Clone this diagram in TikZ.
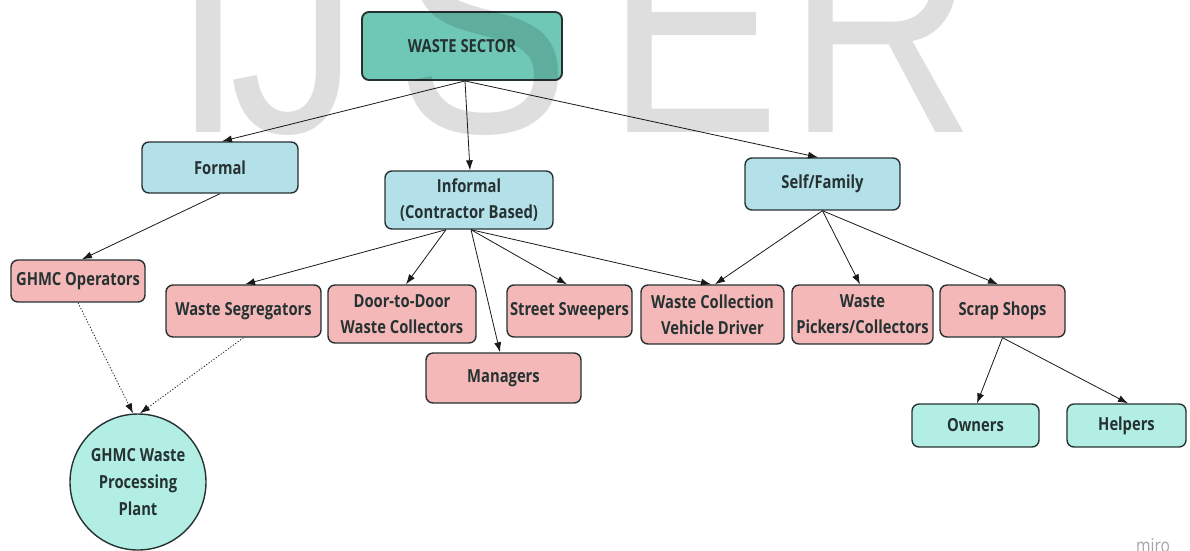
\documentclass[tikz,border=0pt]{standalone}
\usepackage{fontspec}
\usetikzlibrary{arrows.meta}
\newfontfamily\diagfont[FakeStretch=0.82]{Open Sans}
\newfontfamily\wmfont[FakeStretch=0.85]{Liberation Sans}
\definecolor{ink}{RGB}{38,50,50}
\definecolor{rootfill}{RGB}{110,200,181}
\definecolor{bluefill}{RGB}{180,224,233}
\definecolor{pinkfill}{RGB}{244,184,184}
\definecolor{leaffill}{RGB}{178,238,228}
\definecolor{edgecol}{RGB}{25,25,25}
\tikzset{
  box/.style={draw=ink, line width=1.4pt, rounded corners=7pt, align=center,
    font=\diagfont\bfseries\fontsize{18}{26}\selectfont, text=ink, inner sep=0pt},
  rootbox/.style={box, fill=rootfill, line width=1.9pt, font=\diagfont\bfseries\fontsize{18}{24}\selectfont},
  catbox/.style={box, fill=bluefill},
  rolebox/.style={box, fill=pinkfill},
  leafbox/.style={box, fill=leaffill},
  plantnode/.style={circle, draw=ink, line width=1.4pt, fill=leaffill, align=center,
    font=\diagfont\bfseries\fontsize{18}{27}\selectfont, text=ink, inner sep=0pt, minimum size=136pt},
  link/.style={draw=edgecol, line width=0.8pt, -{Latex[length=10pt,width=7pt]}},
  dotlink/.style={link, dash pattern=on 1.2pt off 1.8pt},
  wmletter/.style={anchor=base, inner sep=0pt, text=black, text opacity=0.13,
    font=\wmfont\fontsize{307}{307}\selectfont},
}
\begin{document}
\begin{tikzpicture}[x=1pt,y=-1pt]
\useasboundingbox[fill=white] (0,0) rectangle (1190,550);

% nodes
\node[rootbox, minimum width=200pt, minimum height=68pt] (ws) at (462,46) {WASTE SECTOR};
\node[catbox, minimum width=156pt, minimum height=51pt] (formal) at (220,167.5) {Formal};
\node[catbox, minimum width=168pt, minimum height=58pt] (informal) at (469,200) {Informal\\(Contractor Based)};
\node[catbox, minimum width=155pt, minimum height=52pt] (self) at (822.5,184) {Self/Family};

\node[rolebox, minimum width=134pt, minimum height=42pt] (ghmcop) at (78,281) {GHMC Operators};
\node[rolebox, minimum width=155pt, minimum height=52pt] (seg) at (243.5,311) {Waste Segregators};
\node[rolebox, minimum width=148pt, minimum height=58pt] (d2d) at (402,314) {Door-to-Door\\Waste Collectors};
\node[rolebox, minimum width=155pt, minimum height=50pt] (managers) at (503.5,378) {Managers};
\node[rolebox, minimum width=125pt, minimum height=52pt] (sweep) at (569.5,311) {Street Sweepers};
\node[rolebox, minimum width=143pt, minimum height=59pt] (driver) at (712.5,314.5) {Waste Collection\\Vehicle Driver};
\node[rolebox, minimum width=141pt, minimum height=59pt] (pickers) at (862.5,314.5) {Waste\\Pickers/Collectors};
\node[rolebox, minimum width=125pt, minimum height=52pt] (scrap) at (1002.5,311) {Scrap Shops};

\node[leafbox, minimum width=127pt, minimum height=43pt] (owners) at (975.5,425.5) {Owners};
\node[leafbox, minimum width=119pt, minimum height=43pt] (helpers) at (1126.5,425.5) {Helpers};

\node[plantnode] (plant) at (138,482) {GHMC Waste\\Processing\\Plant};

\node[text=black!35, font=\diagfont\fontsize{19}{19}\selectfont, inner sep=0pt] (miro) at (1153,546) {miro};

% connectors
\draw[link] ([xshift=3pt]ws.south) -- ([xshift=2pt]formal.north);
\draw[link] ([xshift=3pt]ws.south) -- ([xshift=1pt]informal.north);
\draw[link] ([xshift=3pt]ws.south) -- ([xshift=-4.5pt]self.north);

\draw[link] (formal.south) -- ([xshift=4pt]ghmcop.north);

\draw[link] ([xshift=-23pt]informal.south) -- ([xshift=1.5pt]seg.north);
\draw[link] ([xshift=-23pt]informal.south) -- ([xshift=4pt]d2d.north);
\draw[link] ([xshift=2pt]informal.south) -- ([xshift=-3.5pt]managers.north);
\draw[link] ([xshift=2pt]informal.south) -- ([xshift=-2.5pt]sweep.north);
\draw[link] ([xshift=2pt]informal.south) -- ([xshift=-1.5pt]driver.north);

\draw[link] (self.south) -- ([xshift=2.5pt]driver.north);
\draw[link] (self.south) -- ([xshift=-2.5pt]pickers.north);
\draw[link] (self.south) -- ([xshift=-4.5pt]scrap.north);

\draw[link] (scrap.south) -- ([xshift=1.5pt]owners.north);
\draw[link] (scrap.south) -- ([xshift=1.5pt]helpers.north);

\draw[dotlink] (ghmcop.south) -- ([xshift=-5pt]plant.north);
\draw[dotlink] (seg.south) -- ([xshift=2pt]plant.north);

% watermark
\node[wmletter] (wmI) at (209,132) {I};
\node[wmletter] (wmJ) at (295,132) {J};
\node[wmletter] (wmS) at (484,132) {S};
\node[wmletter] (wmE) at (694,132) {E};
\node[wmletter] (wmR) at (882,132) {R};
\end{tikzpicture}
\end{document}
